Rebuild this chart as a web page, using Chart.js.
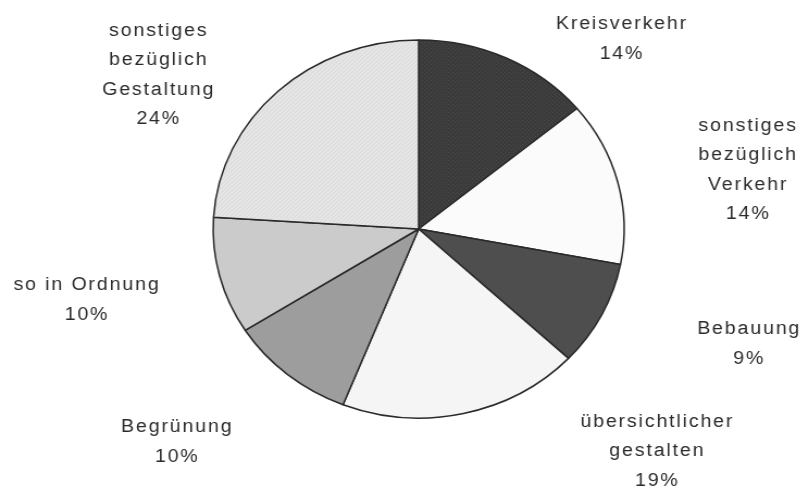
<!DOCTYPE html>
<html lang="de">
<head>
<meta charset="utf-8">
<title>Verbesserungsvorschläge</title>
<script src="https://cdn.jsdelivr.net/npm/chart.js@4"></script>
<style>
  html, body { margin: 0; padding: 0; background: #fff; overflow: hidden; }
  /* the pie is drawn round and then widened a little, like the printed original */
  #wrap {
    position: absolute; left: 0; top: 0;
    width: 744px; height: 490px;
    transform: scaleX(1.0874); transform-origin: 0 0;
  }
</style>
</head>
<body>
<div id="wrap"><canvas id="pie"></canvas></div>
<script>
// answer categories, one entry per text line
const categories = [
  ["Kreisverkehr"],
  ["sonstiges", "bezüglich", "Verkehr"],
  ["Bebauung"],
  ["übersichtlicher", "gestalten"],
  ["Begrünung"],
  ["so in Ordnung"],
  ["sonstiges", "bezüglich", "Gestaltung"]
];
const shares = [14, 14, 9, 19, 10, 10, 24];

const fills = ["#3b3b3b", "#fbfbfb", "#4e4e4e", "#f5f5f5", "#9d9d9d", "#cbcbcb", "#e4e4e4"];

// where each label block sits, relative to the pie centre in radii
const labelSpots = [
  [0.984, -1.005],
  [1.598, -0.312],
  [1.603, 0.608],
  [1.156, 1.175],
  [-1.180, 1.127],
  [-1.619, 0.376],
  [-1.270, -0.815]
];

function makePattern(base, ink, cells) {
  const c = document.createElement("canvas");
  c.width = 4; c.height = 4;
  const g = c.getContext("2d");
  g.fillStyle = base;
  g.fillRect(0, 0, 4, 4);
  g.fillStyle = ink;
  cells.forEach(([x, y]) => g.fillRect(x, y, 1, 1));
  return g.createPattern(c, "repeat");
}

// halftone dots on the dark slice, fine hatching on the big light one
fills[0] = makePattern("#3b3b3b", "#4a4a4a", [[0, 0], [2, 2]]);
fills[6] = makePattern("#e5e5e5", "#d9d9d9", [[0, 3], [1, 2], [2, 1], [3, 0]]);

const sliceLabels = {
  id: "sliceLabels",
  afterDatasetsDraw(chart) {
    const ctx = chart.ctx;
    const arcs = chart.getDatasetMeta(0).data;
    ctx.save();
    ctx.font = "18px 'Liberation Sans', Arial, sans-serif";
    ctx.letterSpacing = "1.7px";
    ctx.fillStyle = "#2b2b2b";
    ctx.textAlign = "center";
    ctx.textBaseline = "middle";
    const lineH = 29.5;
    arcs.forEach((arc, i) => {
      const { x, y, outerRadius } = arc.getProps(["x", "y", "outerRadius"], true);
      const cx = x + labelSpots[i][0] * outerRadius;
      const cy = y + labelSpots[i][1] * outerRadius;
      const lines = categories[i].concat(shares[i] + "%");
      const top = cy - (lines.length - 1) * lineH / 2;
      lines.forEach((t, k) => ctx.fillText(t, cx + 1, top + k * lineH));
    });
    ctx.restore();
  }
};

new Chart(document.getElementById("pie"), {
  type: "pie",
  data: {
    labels: categories.map(c => c.join(" ")),
    datasets: [{
      data: shares,
      backgroundColor: fills,
      borderColor: "#2a2a2a",
      borderWidth: 1.5,
      radius: 189
    }]
  },
  options: {
    responsive: true,
    maintainAspectRatio: false,
    animation: false,
    layout: { padding: { left: 26, right: 0, top: 0, bottom: 32 } },
    plugins: {
      legend: { display: false },
      tooltip: { enabled: false }
    }
  },
  plugins: [sliceLabels]
});
</script>
</body>
</html>
